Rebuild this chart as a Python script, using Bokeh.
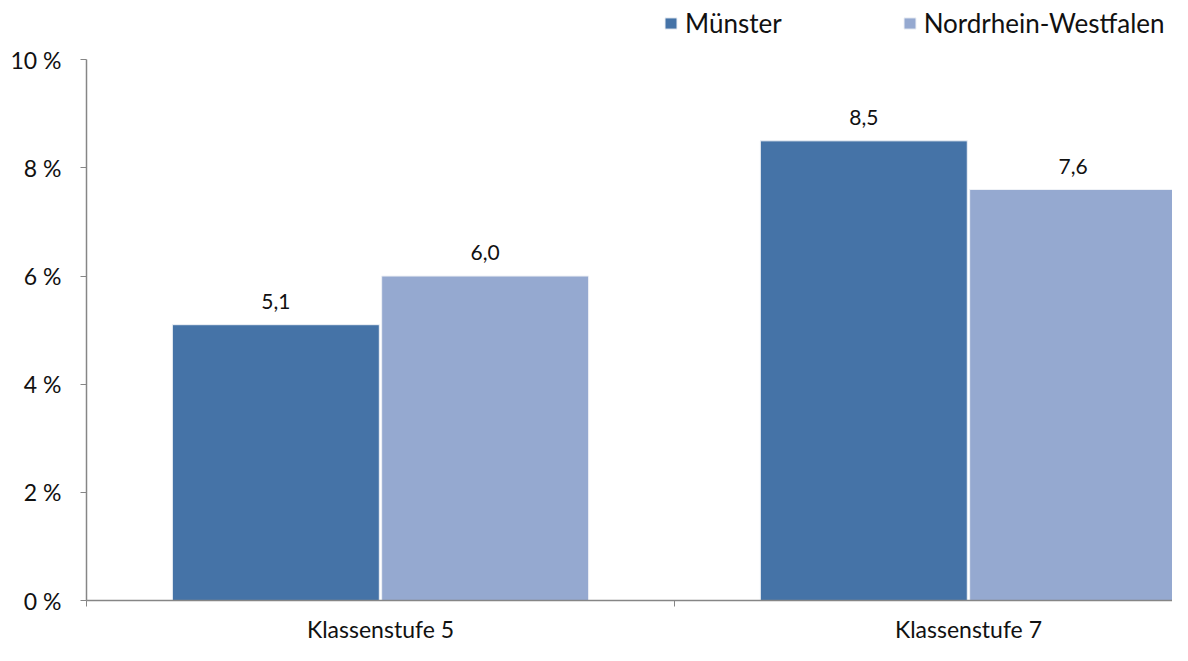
from bokeh.plotting import figure
from bokeh.models import ColumnDataSource, FixedTicker, Legend, LegendItem, Range1d, LabelSet
from bokeh.core.properties import value
from bokeh.embed import file_html
from bokeh.resources import INLINE

categories = ["Klassenstufe 5", "Klassenstufe 7"]
series_names = ["Münster", "Nordrhein-Westfalen"]
muenster = [5.1, 8.5]
nrw = [6.0, 7.6]
y_ticks = [0, 2, 4, 6, 8, 10]
y_tick_labels = ["0 %", "2 %", "4 %", "6 %", "8 %", "10 %"]

FONT = "Lato"
C_M = "#4573A7"
C_N = "#95A9D0"

bar_w = 0.352
off = 0.178
centers = [i + 0.5 for i in range(len(categories))]

src_m = ColumnDataSource(dict(x=[c - off for c in centers], top=muenster,
                              lab=[f"{v:.1f}".replace(".", ",") for v in muenster]))
src_n = ColumnDataSource(dict(x=[c + off for c in centers], top=nrw,
                              lab=[f"{v:.1f}".replace(".", ",") for v in nrw]))

p = figure(width=1172, height=645, output_backend="svg", toolbar_location=None,
           x_range=Range1d(0, 1.847), y_range=Range1d(0, 11.095),
           min_border_left=86, min_border_right=0, min_border_top=0, min_border_bottom=37)
p.outline_line_color = None
p.xgrid.visible = False
p.ygrid.visible = False

r_m = p.vbar(x="x", top="top", width=bar_w, source=src_m, fill_color=C_M, line_color="#eef1f6", line_width=1)
r_n = p.vbar(x="x", top="top", width=bar_w, source=src_n, fill_color=C_N, line_color="#eef1f6", line_width=1)

for s in (src_m, src_n):
    p.add_layout(LabelSet(x="x", y="top", text="lab", source=s, text_align="center",
                          text_baseline="bottom", y_offset=16, text_font=value(FONT),
                          text_font_size=value("21px"), text_color=value("#111111")))

# x axis
p.xaxis.ticker = FixedTicker(ticks=centers, minor_ticks=[0, 1, 2])
p.xaxis.major_label_overrides = {c: n for c, n in zip(centers, categories)}
p.xaxis.major_tick_line_color = None
p.xaxis.major_tick_out = 0
p.xaxis.major_tick_in = 0
p.xaxis.minor_tick_out = 6
p.xaxis.minor_tick_in = 0
p.xaxis.minor_tick_line_color = "#868686"
p.xaxis.axis_line_color = "#868686"
p.xaxis.axis_line_width = 1.5
p.xaxis.major_label_standoff = 8
p.xaxis.major_label_text_font = FONT
p.xaxis.major_label_text_font_size = "23px"
p.xaxis.major_label_text_color = "#111111"

# y axis
p.yaxis.ticker = FixedTicker(ticks=y_ticks, minor_ticks=[])
p.yaxis.bounds = (0, 10)
p.yaxis.major_label_overrides = {t: l for t, l in zip(y_ticks, y_tick_labels)}
p.yaxis.major_tick_out = 6
p.yaxis.major_tick_in = 0
p.yaxis.major_tick_line_color = "#868686"
p.yaxis.axis_line_color = "#868686"
p.yaxis.axis_line_width = 1.5
p.yaxis.major_label_standoff = 19
p.yaxis.major_label_text_font = FONT
p.yaxis.major_label_text_font_size = "23px"
p.yaxis.major_label_text_color = "#111111"

legend = Legend(items=[LegendItem(label=series_names[0], renderers=[r_m]),
                       LegendItem(label=series_names[1], renderers=[r_n])],
                orientation="horizontal", location=(577, 561),
                label_text_font=FONT, label_text_font_size="26px",
                label_text_color="#111111", glyph_width=15, glyph_height=14,
                label_standoff=7, spacing=120, padding=0, margin=0,
                border_line_color=None, background_fill_alpha=0)
p.add_layout(legend)

open("out.html", "w").write(file_html(p, INLINE))
